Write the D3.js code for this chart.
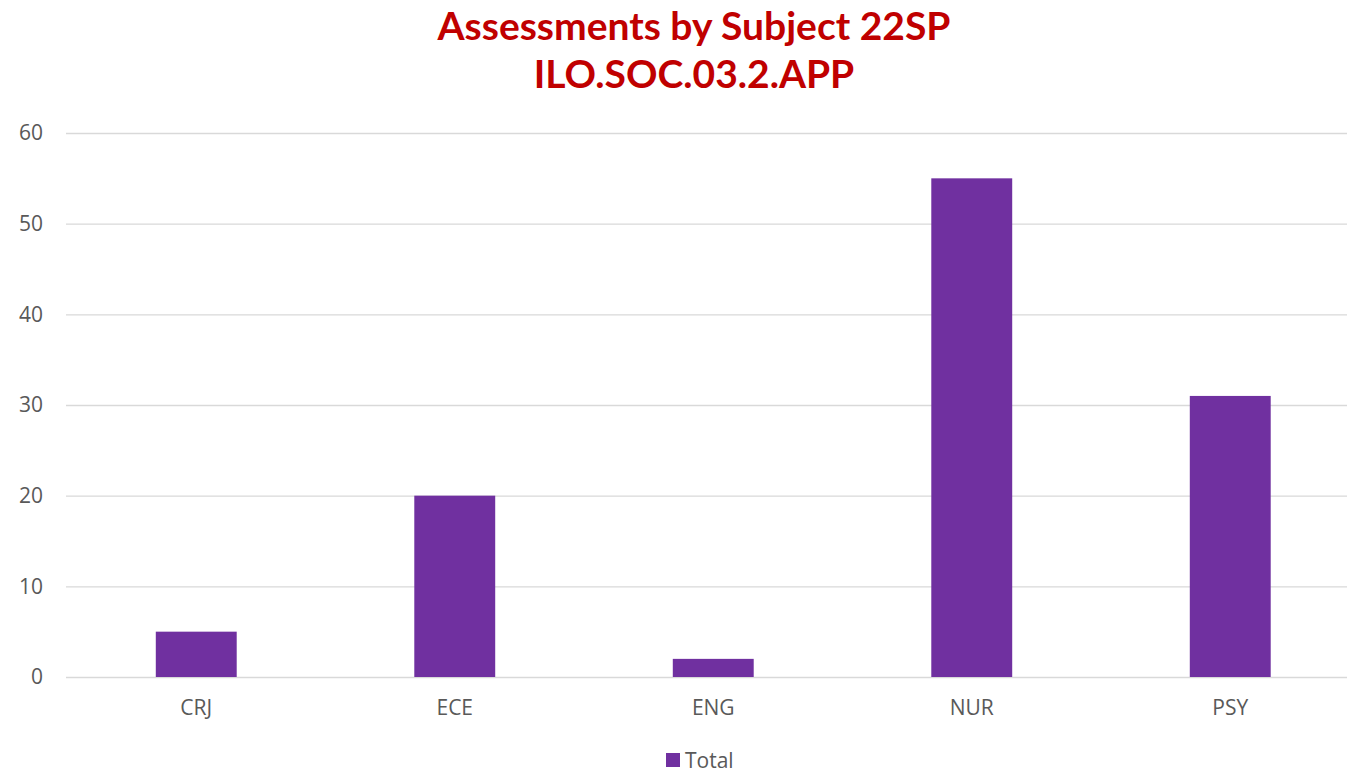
<!DOCTYPE html>
<html>
<head>
<meta charset="utf-8">
<script src="https://cdn.jsdelivr.net/npm/d3@7"></script>
<style>
  body { margin: 0; background: #fff; }
  svg { display: block; font-family: "Open Sans", sans-serif; }
</style>
</head>
<body>
<div id="chart"></div>
<script>
// data
const subjects = ["CRJ", "ECE", "ENG", "NUR", "PSY"];
const totals = [5, 20, 2, 55, 31];
const yTicks = [0, 10, 20, 30, 40, 50, 60];
const titleLines = ["Assessments by Subject 22SP", "ILO.SOC.03.2.APP"];
const seriesName = "Total";

const w = 1347;
const h = 773;

const svg = d3.select("#chart")
  .append("svg")
  .attr("width", w)
  .attr("height", h);

const xScale = d3.scaleBand()
  .domain(subjects)
  .range([67, 1359.5])
  .paddingInner(0.687)
  .paddingOuter(0.3435);

const yScale = d3.scaleLinear()
  .domain([0, 60])
  .range([677, 133]);

// gridlines + y labels
const yAxis = d3.axisLeft(yScale)
  .tickValues(yTicks)
  .tickSize(-(w - 66))
  .tickPadding(23);

const gy = svg.append("g")
  .attr("transform", "translate(66,0)")
  .call(yAxis);
gy.select(".domain").remove();
gy.selectAll(".tick line").attr("stroke", "#d9d9d9").attr("stroke-width", 1.3);
gy.selectAll(".tick text")
  .attr("fill", "#595959")
  .style("font-size", "21px")
  .style("font-family", "Open Sans, sans-serif");

// bars
svg.selectAll("rect.bar")
  .data(totals)
  .enter()
  .append("rect")
  .attr("class", "bar")
  .attr("x", (d, i) => xScale(subjects[i]))
  .attr("width", xScale.bandwidth())
  .attr("y", d => yScale(d))
  .attr("height", d => yScale(0) - yScale(d))
  .attr("fill", "#7030a0");

// x labels
const xAxis = d3.axisBottom(xScale).tickSize(0).tickPadding(23);
const gx = svg.append("g")
  .attr("transform", `translate(0, ${yScale(0)})`)
  .call(xAxis);
gx.select(".domain").remove();
gx.selectAll(".tick text")
  .attr("fill", "#595959")
  .style("font-size", "21px")
  .style("font-family", "Open Sans, sans-serif");

// title
svg.selectAll("text.title")
  .data(titleLines)
  .enter()
  .append("text")
  .attr("class", "title")
  .attr("x", 694)
  .attr("y", (d, i) => 40 + i * 48)
  .attr("text-anchor", "middle")
  .attr("fill", "#c00000")
  .style("font-family", "Lato, sans-serif")
  .style("font-weight", "bold")
  .style("font-size", "39px")
  .text(d => d);

// legend
const legend = svg.append("g").attr("transform", "translate(666, 753)");
legend.append("rect")
  .attr("width", 14)
  .attr("height", 14)
  .attr("fill", "#7030a0");
legend.append("text")
  .attr("x", 19)
  .attr("y", 15)
  .attr("fill", "#595959")
  .style("font-size", "21px")
  .text(seriesName);
</script>
</body>
</html>
